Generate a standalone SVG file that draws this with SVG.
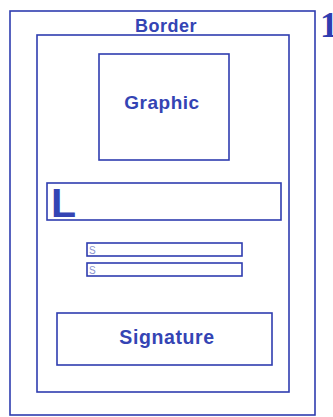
<svg xmlns="http://www.w3.org/2000/svg" width="333" height="417" viewBox="0 0 333 417">
<style>
.box{fill:none;stroke:#2f3db0;stroke-width:1.6}
.lbl{font-family:"Liberation Sans",Arial,sans-serif;font-weight:bold;fill:#3444b4;text-anchor:middle}
.s{font-family:"Liberation Sans",Arial,sans-serif;fill:#8a93d0;font-size:10px}
</style>
<rect width="333" height="417" fill="#ffffff"/>
<g id="border">
<rect class="box" x="10" y="11" width="305" height="404" stroke-width="2"/>
<text class="lbl" x="166" y="32" font-size="18" letter-spacing="0.5">Border</text>
</g>
<text id="num" x="320" y="37" font-family="Liberation Serif,serif" font-weight="bold" font-size="36" fill="#2f3db0">1</text>
<g id="page">
<rect class="box" x="37" y="35" width="252" height="357"/>
</g>
<g id="graphic">
<rect class="box" x="99" y="54" width="130" height="106"/>
<text class="lbl" x="162" y="109" font-size="19" letter-spacing="0.5">Graphic</text>
</g>
<g id="l">
<rect class="box" x="47" y="183" width="234" height="37"/>
<text x="51" y="217" font-family="Liberation Sans,Arial,sans-serif" font-weight="bold" font-size="41" fill="#3444b4">L</text>
</g>
<g id="s1">
<rect class="box" x="87" y="243" width="155" height="13" stroke-width="1.3"/>
<text class="s" x="89" y="254">S</text>
</g>
<g id="s2">
<rect class="box" x="87" y="263" width="155" height="13" stroke-width="1.3"/>
<text class="s" x="89" y="274">S</text>
</g>
<g id="signature">
<rect class="box" x="57" y="313" width="215" height="52"/>
<text class="lbl" x="167" y="344" font-size="19.5" letter-spacing="0.6">Signature</text>
</g>
</svg>
